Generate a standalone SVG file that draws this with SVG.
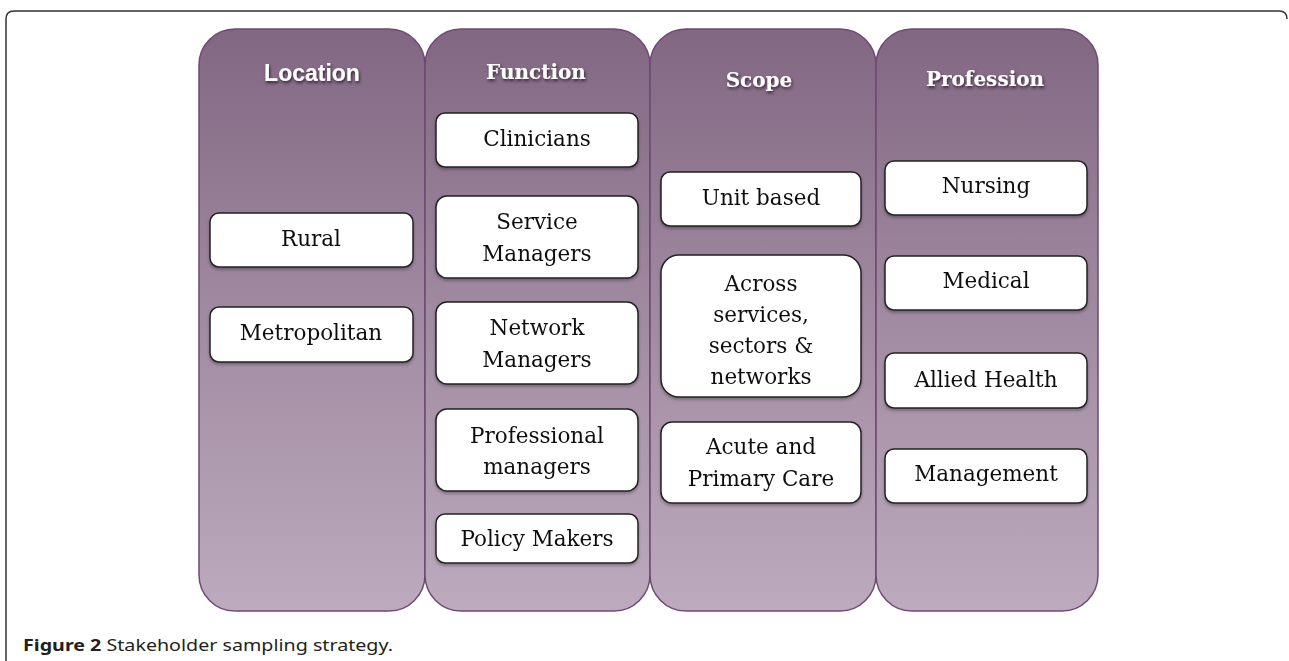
<svg xmlns="http://www.w3.org/2000/svg" width="1289" height="661" viewBox="0 0 1289 661">
<defs>
<linearGradient id="colg" x1="0" y1="0" x2="0" y2="1">
<stop offset="0" stop-color="#826782"/>
<stop offset="0.5" stop-color="#a18ba2"/>
<stop offset="1" stop-color="#bdaabe"/>
</linearGradient>
<filter id="hs" x="-20%" y="-40%" width="140%" height="180%">
<feGaussianBlur in="SourceAlpha" stdDeviation="1.5"/>
<feOffset dx="1" dy="1.5" result="b"/>
<feFlood flood-color="#2a1a2a" flood-opacity="0.9"/>
<feComposite in2="b" operator="in"/>
<feMerge><feMergeNode/><feMergeNode in="SourceGraphic"/></feMerge>
</filter>
<filter id="bs" x="-10%" y="-10%" width="120%" height="130%">
<feGaussianBlur in="SourceAlpha" stdDeviation="1.5"/>
<feOffset dx="0" dy="2" result="b"/>
<feFlood flood-color="#000" flood-opacity="0.3"/>
<feComposite in2="b" operator="in"/>
<feMerge><feMergeNode/><feMergeNode in="SourceGraphic"/></feMerge>
</filter>
<style>
.col{fill:url(#colg);stroke:#6f4a73;stroke-width:1.5}
.box{fill:#fff;stroke:#222;stroke-width:1.5}
.t{font-family:"DejaVu Serif","Liberation Serif",serif;font-size:21.5px;fill:#111;text-anchor:middle}
.h{font-family:"DejaVu Serif","Liberation Serif",serif;font-weight:bold;font-size:20px;fill:#fff;text-anchor:middle}
.hs{font-family:"Liberation Sans",Arial,sans-serif;font-weight:bold;font-size:23px;fill:#fff;text-anchor:middle}
.cap{font-family:"Noto Sans","Open Sans",sans-serif;font-size:16px;fill:#231f20}
</style>
</defs>
<rect width="1289" height="661" fill="#fff"/>
<path d="M6,661 V19 Q6,11 14,11 H1279 Q1287,11 1287,19" fill="none" stroke="#333" stroke-width="1.5"/>

<g id="col-location">
<rect class="col" x="199" y="29" width="226" height="582" rx="36"/>
<text class="hs" x="312" y="81" filter="url(#hs)">Location</text>
</g>
<g id="col-function">
<rect class="col" x="425" y="29" width="225" height="582" rx="36"/>
<text class="h" x="536" y="79" filter="url(#hs)">Function</text>
</g>
<g id="col-scope">
<rect class="col" x="650" y="29" width="226" height="582" rx="36"/>
<text class="h" x="759" y="87" filter="url(#hs)">Scope</text>
</g>
<g id="col-profession">
<rect class="col" x="876" y="29" width="222" height="582" rx="36"/>
<text class="h" x="985" y="86" filter="url(#hs)">Profession</text>
</g>

<g id="n-rural" filter="url(#bs)"><rect class="box" x="210" y="213" width="203" height="54" rx="9"/><text class="t" x="311" y="246">Rural</text></g>
<g id="n-metro" filter="url(#bs)"><rect class="box" x="210" y="307" width="203" height="55" rx="9"/><text class="t" x="311" y="340">Metropolitan</text></g>

<g id="n-clinicians" filter="url(#bs)"><rect class="box" x="436" y="113" width="202" height="54" rx="9"/><text class="t" x="537" y="146">Clinicians</text></g>
<g id="n-service" filter="url(#bs)"><rect class="box" x="436" y="196" width="202" height="82" rx="11"/><text class="t" x="537" y="229">Service</text><text class="t" x="537" y="261">Managers</text></g>
<g id="n-network" filter="url(#bs)"><rect class="box" x="436" y="302" width="202" height="82" rx="11"/><text class="t" x="537" y="335">Network</text><text class="t" x="537" y="367">Managers</text></g>
<g id="n-professional" filter="url(#bs)"><rect class="box" x="436" y="409" width="202" height="82" rx="11"/><text class="t" x="537" y="443">Professional</text><text class="t" x="537" y="474">managers</text></g>
<g id="n-policy" filter="url(#bs)"><rect class="box" x="436" y="514" width="202" height="49" rx="9"/><text class="t" x="537" y="546">Policy Makers</text></g>

<g id="n-unit" filter="url(#bs)"><rect class="box" x="661" y="172" width="200" height="54" rx="9"/><text class="t" x="761" y="205">Unit based</text></g>
<g id="n-across" filter="url(#bs)"><rect class="box" x="661" y="255" width="200" height="142" rx="18"/><text class="t" x="761" y="291">Across</text><text class="t" x="761" y="322">services,</text><text class="t" x="761" y="353">sectors &amp;</text><text class="t" x="761" y="384">networks</text></g>
<g id="n-acute" filter="url(#bs)"><rect class="box" x="661" y="422" width="200" height="81" rx="11"/><text class="t" x="761" y="454">Acute and</text><text class="t" x="761" y="486">Primary Care</text></g>

<g id="n-nursing" filter="url(#bs)"><rect class="box" x="885" y="161" width="202" height="54" rx="9"/><text class="t" x="986" y="193">Nursing</text></g>
<g id="n-medical" filter="url(#bs)"><rect class="box" x="885" y="256" width="202" height="54" rx="9"/><text class="t" x="986" y="288">Medical</text></g>
<g id="n-allied" filter="url(#bs)"><rect class="box" x="885" y="353" width="202" height="55" rx="9"/><text class="t" x="986" y="387">Allied Health</text></g>
<g id="n-management" filter="url(#bs)"><rect class="box" x="885" y="449" width="202" height="54" rx="9"/><text class="t" x="986" y="481">Management</text></g>

<g id="connectors"></g>

<text class="cap" x="23" y="651" textLength="370" lengthAdjust="spacingAndGlyphs"><tspan font-weight="bold">Figure 2</tspan> Stakeholder sampling strategy.</text>
</svg>
